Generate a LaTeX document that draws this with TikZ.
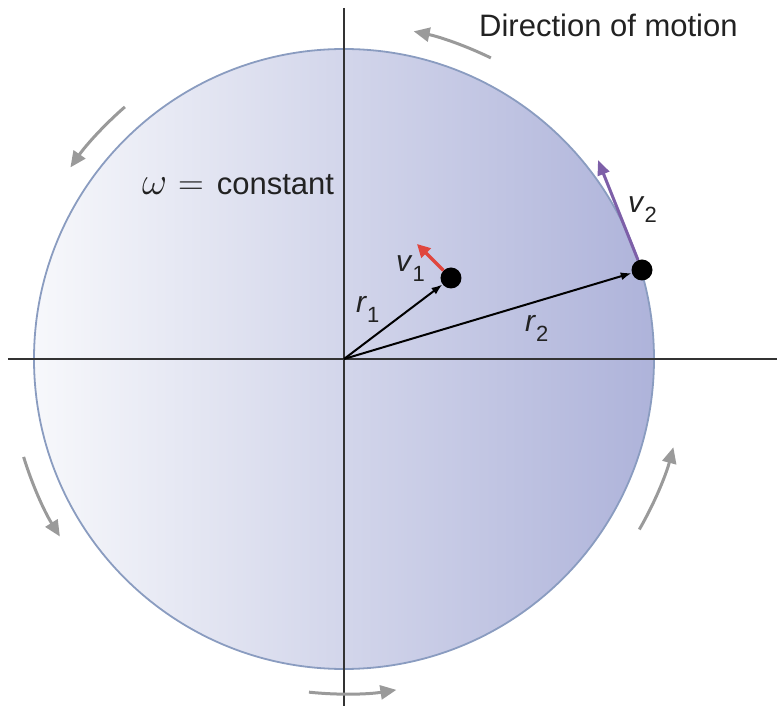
\RequirePackage{fix-cm}
\documentclass[tikz,border=0pt]{standalone}
\usepackage{fontspec}
\setmainfont{Liberation Sans}
\usetikzlibrary{arrows.meta,calc}
\definecolor{edgec}{HTML}{8A9CC0}
\definecolor{fillL}{HTML}{F7F8FB}
\definecolor{fillM}{HTML}{D3D6E8}
\definecolor{fillR}{HTML}{AEB3DA}
\definecolor{motiongray}{HTML}{9A9A9A}
\definecolor{vred}{HTML}{E0463E}
\definecolor{vpurple}{HTML}{7D5FA8}
\definecolor{txt}{HTML}{222222}
\newcommand{\veclab}[2]{\textit{#1}\raisebox{-10pt}{\fontsize{22}{22}\selectfont #2}}
\begin{document}
\begin{tikzpicture}[x=1pt,y=1pt,
  motion/.style={draw=motiongray,line width=3pt,-{Triangle[length=16pt,width=14pt]}},
  axisline/.style={draw=black!80,line width=1.5pt},
  radvec/.style={draw=black,line width=2pt,-{Latex[length=11pt,width=8pt]}},
  dotnode/.style={circle,fill=black,inner sep=0pt,minimum size=21pt},
  lab/.style={inner sep=0pt,text=txt,font=\fontsize{30}{36}\selectfont},
  bigtext/.style={inner sep=0pt,text=txt,font=\fontsize{31}{37}\selectfont}]
\useasboundingbox (-344,-347) rectangle (433,359);
\coordinate (O) at (0,0);
% disc
\shade[left color=fillL,middle color=fillM,right color=fillR] (O) circle (310pt);
\draw[edgec,line width=1.8pt] (O) circle (310pt);
% axes
\coordinate (ytop) at (0,351);
\coordinate (ybot) at (0,-347);
\coordinate (xl) at (-336,0);
\coordinate (xr) at (433,0);
\draw[axisline] (ytop) -- (ybot);
\draw[axisline] (xl) -- (xr);
% direction-of-motion arrows
\draw[motion] (64:335) arc[start angle=64,end angle=78,radius=335];
\draw[motion] (131:334) arc[start angle=131,end angle=145,radius=334];
\draw[motion] (197:335) arc[start angle=197,end angle=212,radius=335];
\draw[motion] (264:335) arc[start angle=264,end angle=279,radius=335];
\draw[motion] (-30:341) arc[start angle=-30,end angle=-15,radius=341];
% points
\node[dotnode] (P1) at (107,81) {};
\node[dotnode] (P2) at (298,89) {};
\coordinate (v1tip) at (73,115);
\coordinate (v2tip) at (254,199);
\draw[radvec] (O) -- (P1);
\draw[radvec] (O) -- (P2);
\draw[draw=vred,line width=3.5pt,-{Triangle[length=13pt,width=13pt]}] (P1) -- (v1tip);
\draw[draw=vpurple,line width=3pt,-{Triangle[length=15pt,width=12pt]}] (P2) -- (v2tip);
% labels
\node[lab,anchor=base west] (lv1) at (52,87) {\veclab{v}{1}};
\node[lab,anchor=base west] (lv2) at (284,146) {\veclab{v}{2}};
\node[lab,anchor=base west] (lr1) at (12,46) {\veclab{r}{1}};
\node[lab,anchor=base west] (lr2) at (181,27) {\veclab{r}{2}};
\node[bigtext,anchor=base west] (dir) at (135,322) {Direction of motion};
\node[bigtext,anchor=base west] (omega) at (-202,164) {\scalebox{1.25}{$\omega$}\hspace{11pt}\scalebox{1.15}{$=$}\hspace{13pt}constant};
\end{tikzpicture}
\end{document}
